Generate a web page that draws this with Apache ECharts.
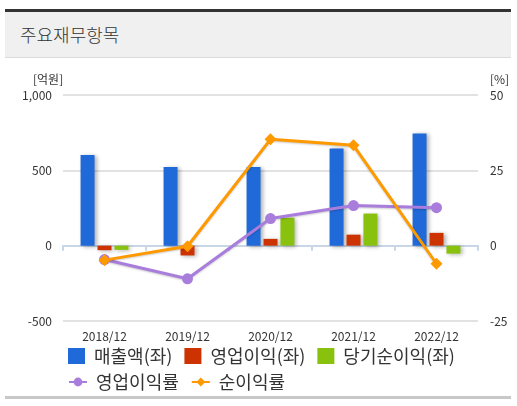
<!DOCTYPE html>
<html>
<head>
<meta charset="utf-8">
<script src="https://cdn.jsdelivr.net/npm/echarts@6/dist/echarts.min.js"></script>
<style>
    html, body { margin: 0; padding: 0; background: #fff; }
    #wrap { position: relative; width: 517px; height: 406px; overflow: hidden; font-family: 'Noto Sans CJK KR', 'Noto Sans', sans-serif; }
    #topbar { position: absolute; left: 5px; top: 9px; width: 506px; height: 3px; background: #333; }
    #head { position: absolute; left: 5px; top: 12px; width: 506px; height: 45px; background: #f0f0f0; border-bottom: 1px solid #dcdcdc; }
    #head span { position: absolute; left: 15px; top: 10px; font-size: 18px; font-weight: 300; color: #333; line-height: 24px; }
    #bottombar { position: absolute; left: 5px; top: 396px; width: 506px; height: 3px; background: #c8c8c8; }
    #chart { position: absolute; left: 0; top: 0; width: 517px; height: 406px; }
</style>
</head>
<body>
<div id="wrap">
    <div id="chart"></div>
    <div id="topbar"></div>
    <div id="head"><span>주요재무항목</span></div>
    <div id="bottombar"></div>
</div>
<script>
    'use strict';
    // 기간
    var periods = ['2018/12', '2019/12', '2020/12', '2021/12', '2022/12'];
    // 억원 (좌축)
    var sales = [602, 522, 522, 645, 745];
    var operatingProfit = [-30, -65, 45, 73, 85];
    var netProfit = [-28, 0, 185, 213, -53];
    // % (우축)
    var operatingMargin = [-4.6, -11, 9, 13.3, 12.6];
    var netMargin = [-4.8, -0.2, 35.3, 33.3, -6];
    // 축 눈금
    var leftTicks = { min: -500, max: 1000, interval: 500 };
    var rightTicks = { min: -25, max: 50, interval: 25 };

    var fontFamily = "'Noto Sans CJK KR', 'Noto Sans', sans-serif";
    var barShadow = {
        shadowColor: 'rgba(0,0,0,0.3)',
        shadowBlur: 4,
        shadowOffsetX: 2,
        shadowOffsetY: 1
    };

    var option = {
        animation: false,
        textStyle: { fontFamily: fontFamily },
        grid: { left: 63, right: 39, top: 95, height: 226 },
        graphic: [
            { type: 'text', left: 33, top: 73, style: { text: '[억원]', fontSize: 12, fill: '#333', fontFamily: fontFamily } },
            { type: 'text', left: 490, top: 73, style: { text: '[%]', fontSize: 12, fill: '#333', fontFamily: fontFamily } }
        ],
        legend: [
            {
                left: 68, top: 347, padding: 0, itemWidth: 17, itemHeight: 16, itemGap: 12,
                textStyle: { fontSize: 18, color: '#333', padding: [0, 0, 0, 4] },
                data: [
                    { name: '매출액(좌)', icon: 'rect' },
                    { name: '영업이익(좌)', icon: 'rect' },
                    { name: '당기순이익(좌)', icon: 'rect' }
                ]
            },
            {
                left: 68, top: 373, padding: 0, itemWidth: 18, itemHeight: 11, itemGap: 12,
                textStyle: { fontSize: 18, color: '#333', padding: [0, 0, 0, 4] },
                data: ['영업이익률', '순이익률']
            }
        ],
        xAxis: {
            type: 'category',
            data: periods,
            boundaryGap: true,
            axisLine: { lineStyle: { color: '#c9d6e6', width: 2 } },
            axisTick: { show: true, length: 5, lineStyle: { color: '#c9d6e6', width: 2 } },
            axisLabel: { color: '#333', fontSize: 12, margin: 9 },
            splitLine: { show: false }
        },
        yAxis: [
            {
                type: 'value',
                min: leftTicks.min, max: leftTicks.max, interval: leftTicks.interval,
                axisLine: { show: false },
                axisTick: { show: false },
                axisLabel: {
                    color: '#333', fontSize: 12, margin: 11,
                    formatter: function (v) { return v.toLocaleString('en-US'); }
                },
                splitLine: { lineStyle: { color: '#e2e2e2', width: 2 } }
            },
            {
                type: 'value',
                min: rightTicks.min, max: rightTicks.max, interval: rightTicks.interval,
                axisLine: { show: false },
                axisTick: { show: false },
                axisLabel: { color: '#333', fontSize: 12, margin: 12 },
                splitLine: { show: false }
            }
        ],
        series: [
            {
                name: '매출액(좌)', type: 'bar', data: sales, barWidth: 14, barGap: '21%',
                itemStyle: Object.assign({ color: '#2069d9' }, barShadow)
            },
            {
                name: '영업이익(좌)', type: 'bar', data: operatingProfit, barWidth: 14, barGap: '21%',
                itemStyle: Object.assign({ color: '#cc3300' }, barShadow)
            },
            {
                name: '당기순이익(좌)', type: 'bar', data: netProfit, barWidth: 14, barGap: '21%',
                itemStyle: Object.assign({ color: '#88c20e' }, barShadow)
            },
            {
                name: '영업이익률', type: 'line', yAxisIndex: 1, data: operatingMargin,
                symbol: 'circle', symbolSize: 11, z: 5,
                lineStyle: { color: '#a97ddc', width: 3, shadowColor: 'rgba(0,0,0,0.2)', shadowBlur: 2, shadowOffsetY: 1 },
                itemStyle: { color: '#a97ddc' }
            },
            {
                name: '순이익률', type: 'line', yAxisIndex: 1, data: netMargin,
                symbol: 'diamond', symbolSize: 12, z: 6,
                lineStyle: { color: '#ff9900', width: 3, shadowColor: 'rgba(0,0,0,0.2)', shadowBlur: 2, shadowOffsetY: 1 },
                itemStyle: { color: '#ff9900' }
            }
        ]
    };

    var chart = echarts.init(document.getElementById('chart'));
    chart.setOption(option);
</script>
</body>
</html>
